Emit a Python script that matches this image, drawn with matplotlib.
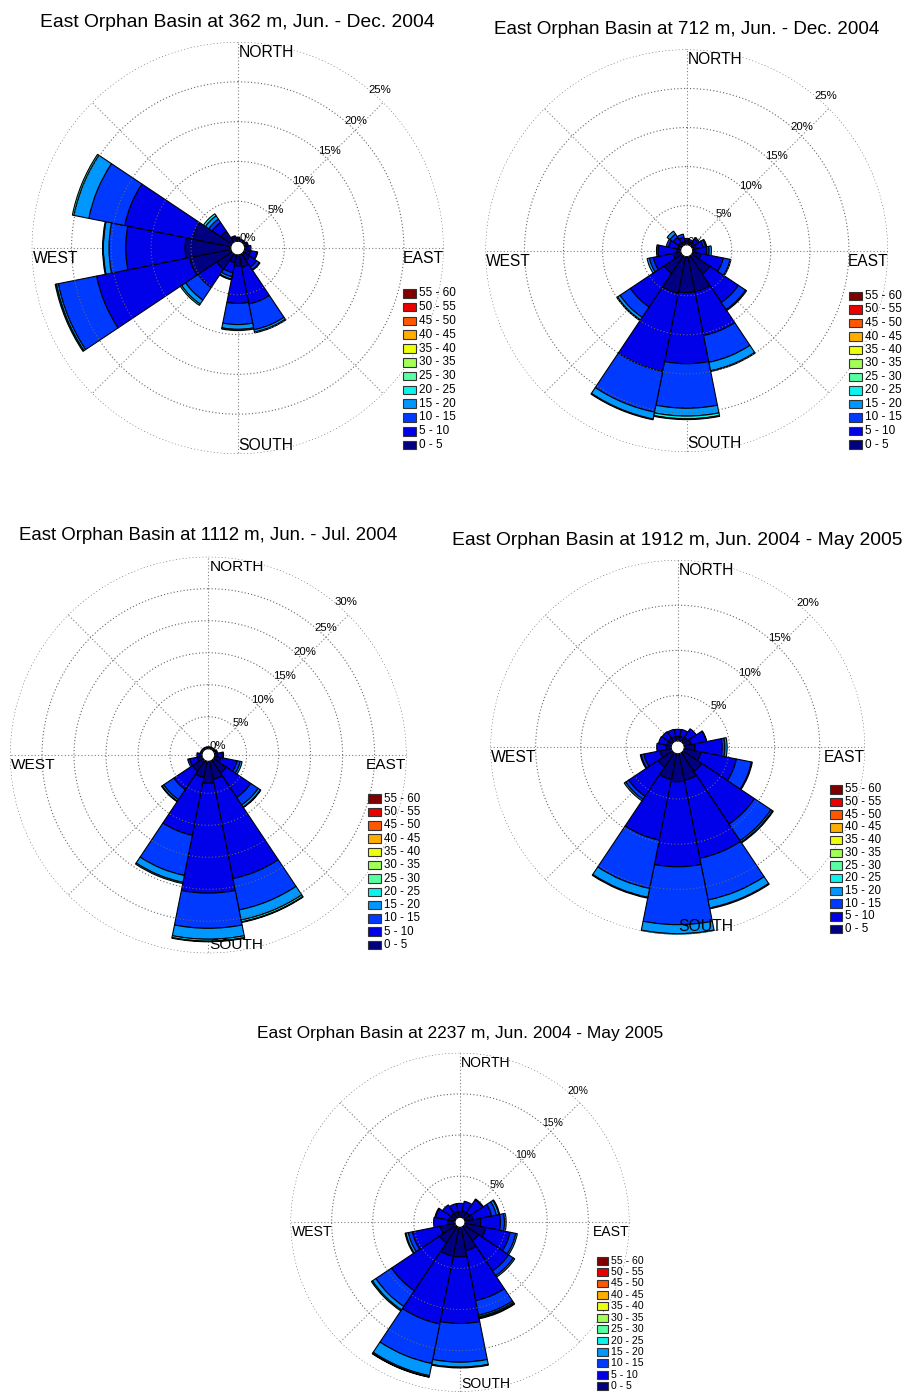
import numpy as np
import matplotlib as mpl
mpl.use('Agg')
import matplotlib.pyplot as plt
from matplotlib.patches import Rectangle

plt.rcParams['font.family'] = ['Liberation Sans', 'DejaVu Sans']

W, H = 907, 1395

# compass sectors, clockwise from north
dirs = ['N', 'NNE', 'NE', 'ENE', 'E', 'ESE', 'SE', 'SSE',
        'S', 'SSW', 'SW', 'WSW', 'W', 'WNW', 'NW', 'NNW']
dir_deg = [22.5 * i for i in range(16)]
speed_bins = ['0 - 5', '5 - 10', '10 - 15', '15 - 20', '20 - 25', '25 - 30',
              '30 - 35', '35 - 40', '40 - 45', '45 - 50', '50 - 55', '55 - 60']

# % of time per sector, one row per speed bin (0-5, 5-10, ...)
rose_362 = [
    [0.4, 0.3, 0.3, 0.4, 0.4, 0.8, 1.0, 1.6, 1.4, 1.0, 2.3, 5.3, 5.75, 4.9, 1.7, 0.5],
    [0.1, 0.0, 0.0, 0.1, 0.4, 0.8, 1.0, 4.7, 4.7, 1.3, 2.8, 11.9, 7.45, 8.7, 1.3, 0.2],
    [0, 0, 0, 0, 0, 0.1, 0.4, 3.3, 2.65, 0.5, 1.9, 4.9, 2.1, 4.6, 0.5, 0],
    [0, 0, 0, 0, 0, 0, 0.1, 0.3, 0.6, 0.3, 0.6, 0.25, 0.7, 1.9, 0.5, 0],
    [0, 0, 0, 0, 0, 0, 0, 0.1, 0.15, 0.1, 0.2, 0.15, 0.1, 0.2, 0.3, 0],
]
rose_712 = [
    [0.5, 0.4, 0.5, 0.5, 0.4, 1.1, 2.8, 4.6, 4.6, 4.8, 2.7, 1.0, 0.5, 0.4, 0.5, 0.4],
    [0.3, 0.3, 0.5, 0.9, 1.4, 2.9, 4.4, 5.7, 9.1, 10.2, 5.2, 2.6, 2.4, 1.2, 0.8, 0.6],
    [0, 0, 0.2, 0.3, 0.3, 0.9, 1.1, 3.5, 5.7, 5.3, 1.6, 0.5, 0.2, 0.3, 0.5, 0.4],
    [0, 0, 0, 0.15, 0.3, 0.1, 0.15, 1.1, 1.0, 0.9, 0.4, 0.3, 0, 0, 0.45, 0],
    [0, 0, 0, 0, 0, 0, 0, 0.1, 0.35, 0.1, 0.1, 0, 0, 0, 0, 0],
    [0, 0, 0, 0, 0, 0, 0, 0, 0.1, 0, 0, 0, 0, 0, 0, 0],
]
rose_1112 = [
    [0.3, 0.3, 0.3, 0.3, 0.5, 1.0, 2.4, 2.9, 3.45, 2.6, 2.0, 0.8, 0.4, 0.3, 0.3, 0.3],
    [0, 0, 0, 0.2, 0.7, 2.6, 4.6, 15.8, 17.15, 9.2, 3.5, 1.2, 0.4, 0, 0, 0],
    [0, 0, 0, 0, 0.2, 0.5, 1.4, 5.0, 5.5, 6.4, 1.9, 0.3, 0, 0, 0, 0],
    [0, 0, 0, 0, 0, 0.3, 0.4, 1.6, 1.7, 1.1, 0.3, 0, 0, 0, 0, 0],
    [0, 0, 0, 0, 0, 0, 0.1, 0.3, 0.3, 0.2, 0.1, 0, 0, 0, 0, 0],
    [0, 0, 0, 0, 0, 0, 0, 0.1, 0.1, 0, 0, 0, 0, 0, 0, 0],
]
rose_1912 = [
    [0.5, 0.5, 0.6, 0.8, 1.2, 1.9, 2.5, 3.0, 3.1, 2.9, 1.9, 1.3, 0.6, 0.5, 0.5, 0.5],
    [0.77, 0.8, 1.15, 1.7, 3.0, 4.0, 7.0, 8.8, 9.4, 6.85, 3.9, 1.8, 1.0, 0.94, 0.87, 0.8],
    [0, 0, 0, 0.05, 0.3, 1.7, 2.2, 4.7, 6.4, 5.45, 0.4, 0.3, 0, 0, 0, 0],
    [0, 0, 0, 0, 0.25, 0.1, 0.2, 0.9, 1.0, 1.0, 0.2, 0.1, 0, 0, 0, 0],
    [0, 0, 0, 0, 0, 0, 0.1, 0.1, 0.15, 0.1, 0, 0, 0, 0, 0, 0],
]
rose_2237 = [
    [0.7, 0.8, 0.8, 1.0, 1.9, 2.6, 2.1, 2.9, 3.6, 3.6, 2.4, 1.85, 0.9, 0.8, 0.7, 0.7],
    [1.0, 1.2, 1.9, 2.3, 2.4, 3.0, 4.4, 6.2, 8.1, 8.4, 7.0, 3.45, 1.7, 1.6, 1.25, 1.0],
    [0, 0, 0.1, 0.6, 0.5, 0.7, 0.7, 1.8, 4.7, 4.9, 2.3, 0.5, 0, 0.1, 0, 0],
    [0, 0, 0, 0.3, 0.2, 0.2, 0.2, 0.2, 0.6, 1.5, 0.5, 0.3, 0, 0, 0, 0],
    [0, 0, 0, 0.1, 0, 0, 0, 0.15, 0.1, 0.15, 0.15, 0.1, 0, 0, 0, 0],
    [0, 0, 0, 0, 0, 0, 0, 0.1, 0, 0.05, 0, 0, 0, 0, 0, 0],
]

titles = ['East Orphan Basin at 362 m, Jun. - Dec. 2004',
          'East Orphan Basin at 712 m, Jun. - Dec. 2004',
          'East Orphan Basin at 1112 m, Jun. - Jul. 2004',
          'East Orphan Basin at 1912 m, Jun. 2004 - May 2005',
          'East Orphan Basin at 2237 m, Jun. 2004 - May 2005']
roses = [rose_362, rose_712, rose_1112, rose_1912, rose_2237]
rmaxes = [25, 25, 30, 20, 20]

# layout in pixels: centre x, centre y, radius, hole radius, title baseline,
# title size, compass size, % size, legend (x, first row y, step, w, h), legend size
layout = [
    (237.7, 248.0, 206.0, 6.9, 27.0, 13.9, 11.3, 8.2, (403.0, 293.3, 13.8, 13.3, 8.5), 8.5),
    (686.7, 250.7, 201.3, 6.0, 34.0, 13.6, 11.2, 8.2, (849.0, 296.0, 13.5, 13.0, 8.5), 8.5),
    (208.3, 755.0, 198.3, 6.3, 540.0, 13.4, 11.1, 8.2, (368.3, 798.7, 13.3, 12.5, 8.5), 8.3),
    (677.7, 747.3, 187.3, 6.5, 544.5, 13.9, 11.3, 8.2, (830.0, 789.3, 12.7, 12.3, 8.5), 8.3),
    (460.0, 1222.3, 169.5, 5.0, 1038.4, 12.5, 10.1, 7.5, (596.7, 1260.7, 11.4, 11.0, 7.8), 7.6),
]

colors = plt.get_cmap('jet', 12)(np.arange(12))


def fx(x):
    return x / W


def fy(y):
    return 1 - y / H


def draw_rose(fig, rose, rmax, title, lay):
    cx, cy, R, r0, tb, tfs, cfs, pfs, leg, lfs = lay
    ax = fig.add_axes([fx(cx - R), fy(cy + R), 2 * R / W, 2 * R / H],
                      projection='polar')
    ax.set_theta_zero_location('N')
    ax.set_theta_direction(-1)
    origin = r0 * rmax / (R - r0)
    ax.set_rlim(0, rmax)
    ax.set_rorigin(-origin)
    ax.grid(False)
    ax.set_xticks([])
    ax.set_yticks([])
    ax.spines['polar'].set_visible(False)
    ax.patch.set_visible(False)

    # spokes under the bars, rings over them
    for a in range(0, 360, 45):
        ax.plot([np.radians(a)] * 2, [0, rmax], ls=(0, (1, 2)), lw=0.8,
                color='#808080', zorder=0.5)
    th = np.linspace(0, 2 * np.pi, 400)
    for v in range(0, rmax + 1, 5):
        ax.plot(th, np.full_like(th, v), ls=(0, (1, 2)), lw=0.8,
                color='#666666', zorder=5)

    # % labels along the NE spoke
    k = (R - r0) / rmax
    for v in range(0, rmax + 1, 5):
        ang = 44 + 4 * v / rmax
        rr = v + 7 / k
        ax.text(np.radians(90 - ang), rr, f'{v}%', fontsize=pfs,
                ha='center', va='center', zorder=1)

    theta = np.radians(dir_deg)
    width = 2 * np.pi / 16
    bottom = np.zeros(16)
    for i, row in enumerate(rose):
        vals = np.array(row, dtype=float)
        m = vals > 0
        ax.bar(theta[m], vals[m], width=width, bottom=bottom[m],
               color=colors[i], edgecolor='black', linewidth=0.8, zorder=2)
        bottom = bottom + vals

    fig.text(fx(cx), fy(tb), title, ha='center', va='baseline', fontsize=tfs)
    fig.text(fx(cx + 1), fy(cy - R + 3), 'NORTH', ha='left', va='top', fontsize=cfs, zorder=10)
    fig.text(fx(cx + 1), fy(cy + R - 4), 'SOUTH', ha='left', va='baseline', fontsize=cfs, zorder=10)
    fig.text(fx(cx - R + 1), fy(cy + 3), 'WEST', ha='left', va='top', fontsize=cfs, zorder=10)
    fig.text(fx(cx + R), fy(cy + 3), 'EAST', ha='right', va='top', fontsize=cfs, zorder=10)

    lx, ly, step, pw, ph = leg
    for j in range(12):
        idx = 11 - j
        y = ly + j * step
        fig.add_artist(Rectangle((fx(lx), fy(y + ph / 2)), pw / W, ph / H,
                                 transform=fig.transFigure, facecolor=colors[idx],
                                 edgecolor='#333333', linewidth=0.8))
        fig.text(fx(lx + pw + 3), fy(y), speed_bins[idx], ha='left',
                 va='center', fontsize=lfs)


def main():
    fig = plt.figure(figsize=(W / 100, H / 100), dpi=100)
    fig.patch.set_facecolor('white')
    for rose, rmax, title, lay in zip(roses, rmaxes, titles, layout):
        draw_rose(fig, rose, rmax, title, lay)
    fig.savefig('out.png', dpi=100, facecolor='white')


if __name__ == '__main__':
    main()
